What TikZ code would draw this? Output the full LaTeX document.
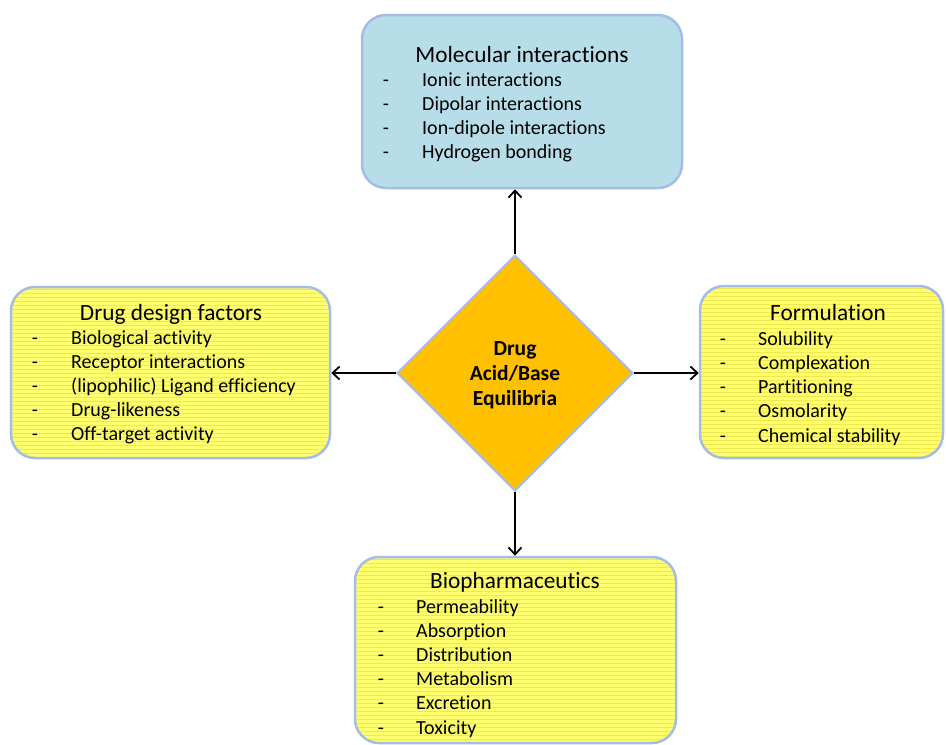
\documentclass[tikz,border=0pt]{standalone}
\usepackage{fontspec}
\setmainfont[RawFeature=-liga]{Carlito}
\usetikzlibrary{shapes.geometric,arrows.meta}
\definecolor{boxedge}{RGB}{164,189,230}
\definecolor{aquafill}{RGB}{183,222,232}
\definecolor{yelfill}{RGB}{255,255,110}
\definecolor{yelstripe}{RGB}{240,232,80}
\definecolor{goldfill}{RGB}{255,192,0}
\tikzset{
  boxbase/.style={rectangle, rounded corners=24pt, draw=boxedge, line width=2.5pt, inner sep=0pt},
  bluebox/.style={boxbase, fill=aquafill},
  yelbox/.style={boxbase, fill=yelfill,
    path picture={\foreach \k in {0,...,60}{\draw[yelstripe, line width=0.6pt]
      ([yshift=-\k*4pt-2pt]path picture bounding box.north west) -- ([yshift=-\k*4pt-2pt]path picture bounding box.north east);}}},
  ttl/.style={font=\fontsize{23.3}{28}\selectfont, anchor=base, inner sep=0pt},
  itm/.style={font=\fontsize{20}{24}\selectfont, anchor=base west, inner sep=0pt},
  dsh/.style={font=\fontsize{20}{24}\selectfont, anchor=base, inner sep=0pt},
  ctr/.style={font=\fontsize{21.5}{26}\selectfont\bfseries, anchor=base, inner sep=0pt},
  conn/.style={draw=black, line width=1.8pt, -{Straight Barb[length=7pt,width=13pt,line width=1.8pt]}}
}
\begin{document}
\begin{tikzpicture}[x=1pt,y=-1pt]
\useasboundingbox (0,0) rectangle (946,745);
% boxes
\node[bluebox, minimum width=320pt, minimum height=173pt] (mol) at (522,101.5) {};
\node[yelbox, minimum width=319pt, minimum height=171pt] (drg) at (170.5,372.5) {};
\node[yelbox, minimum width=243pt, minimum height=172pt] (frm) at (821.5,372) {};
\node[yelbox, minimum width=321pt, minimum height=186pt] (bio) at (515.5,650) {};
\node[diamond, aspect=1, fill=goldfill, draw=boxedge, line width=2pt, minimum width=236pt, minimum height=236pt, inner sep=0pt] (dia) at (515,373) {};
% centre text
\node[ctr] (d1) at (515,355) {Drug};
\node[ctr] (d2) at (515,380) {Acid/Base};
\node[ctr] (d3) at (515,405) {Equilibria};
% titles
\node[ttl] (molt) at (522,62) {Molecular interactions};
\node[ttl] (drgt) at (171,320) {Drug design factors};
\node[ttl] (frmt) at (828,320) {Formulation};
\node[ttl] (biot) at (515,588) {Biopharmaceutics};
% lists
\foreach \t [count=\i] in {Ionic interactions, Dipolar interactions, Ion-dipole interactions, Hydrogen bonding}{
  \node[dsh] (mold\i) at (386,{86+24*(\i-1)}) {-};
  \node[itm] (moli\i) at (422,{86+24*(\i-1)}) {\t};
}
\foreach \t [count=\i] in {Biological activity, Receptor interactions, (lipophilic) Ligand efficiency, Drug-likeness, Off-target activity}{
  \node[dsh] (drgd\i) at (35,{344+24.2*(\i-1)}) {-};
  \node[itm] (drgi\i) at (71,{344+24.2*(\i-1)}) {\t};
}
\foreach \t [count=\i] in {Solubility, Complexation, Partitioning, Osmolarity, Chemical stability}{
  \node[dsh] (frmd\i) at (723,{345+24.3*(\i-1)}) {-};
  \node[itm] (frmi\i) at (758,{345+24.3*(\i-1)}) {\t};
}
\foreach \t [count=\i] in {Permeability, Absorption, Distribution, Metabolism, Excretion, Toxicity}{
  \node[dsh] (biod\i) at (381,{613+24.2*(\i-1)}) {-};
  \node[itm] (bioi\i) at (416,{613+24.2*(\i-1)}) {\t};
}
% connectors
\draw[conn] (dia.north) -- (dia.north |- mol.south);
\draw[conn] (dia.south) -- (dia.south |- bio.north);
\draw[conn] (dia.west) -- (dia.west -| drg.east);
\draw[conn] (dia.east) -- (dia.east -| frm.west);
\end{tikzpicture}
\end{document}
